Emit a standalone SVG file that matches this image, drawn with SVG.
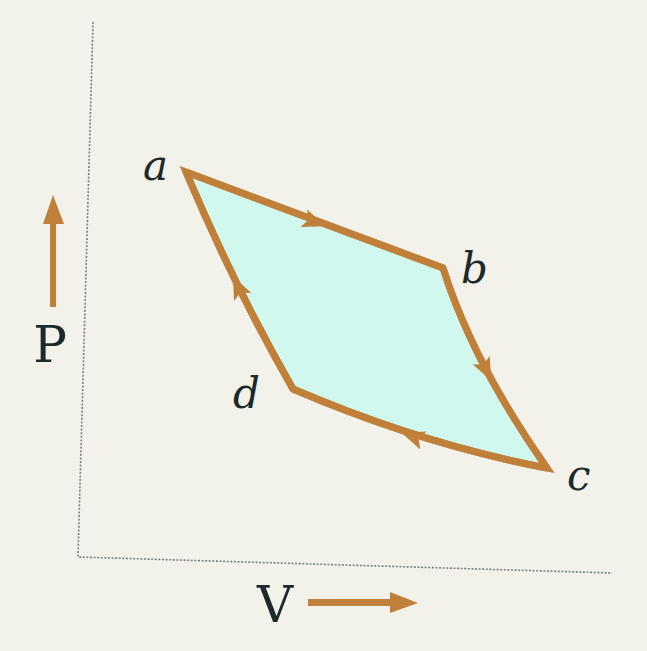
<svg xmlns="http://www.w3.org/2000/svg" width="647" height="651" viewBox="0 0 647 651">
<style>
.edge{fill:none;stroke:#c0803a;stroke-width:7;stroke-linejoin:miter;stroke-miterlimit:10}
.head{fill:#c0803a}
.axis{fill:none;stroke:#76807f;stroke-width:1.6;stroke-dasharray:2 1.6}
.lbl{font-family:"DejaVu Serif","Liberation Serif",serif;font-style:italic;font-size:42px;fill:#1c2a2a}
.ax{font-family:"DejaVu Serif","Liberation Serif",serif;font-size:50px;fill:#1c2a2a}
</style>
<defs>
<polygon id="ah" points="12,0 -11,-9.5 -6,0 -11,9.5"/>
</defs>
<rect width="647" height="651" fill="#f3f2ea"/>
<g id="axes">
<path class="axis" d="M93,22 L78,557 L612,573"/>
</g>
<g id="region">
<path d="M186,172 L443,268 Q473,363 547,468 Q421,444 293,389 Q236,290 186,172 Z" fill="#d0f8ee" stroke="#c0803a" stroke-width="7" stroke-linejoin="miter" stroke-miterlimit="10"/>
</g>
<g id="connectors">
<path id="e-ab" class="edge" d="M186,172 L443,268"/>
<path id="e-bc" class="edge" d="M443,268 Q473,363 547,468"/>
<path id="e-cd" class="edge" d="M547,468 Q421,444 293,389"/>
<path id="e-da" class="edge" d="M293,389 Q236,290 186,172"/>
<use href="#ah" class="head" transform="translate(314,222) rotate(20.5)"/>
<use href="#ah" class="head" transform="translate(486,370) rotate(64)"/>
<use href="#ah" class="head" transform="translate(413,437) rotate(199)"/>
<use href="#ah" class="head" transform="translate(238,287) rotate(245)"/>
</g>
<g id="node-a"><text class="lbl" x="143" y="180">a</text></g>
<g id="node-b"><text class="lbl" x="461" y="283">b</text></g>
<g id="node-c"><text class="lbl" x="567" y="490">c</text></g>
<g id="node-d"><text class="lbl" x="233" y="408">d</text></g>
<g id="label-P">
<path d="M50,307 L50,220 L56,220 L56,307 Z" fill="#c0803a"/>
<polygon points="53,195 43,224 64,224" fill="#c0803a"/>
<text class="ax" x="50" y="362" text-anchor="middle">P</text>
</g>
<g id="label-V">
<path d="M308,599 L392,599 L392,606 L308,606 Z" fill="#c0803a"/>
<polygon points="418,603 390,592 390,613" fill="#c0803a"/>
<text class="ax" x="275" y="622" text-anchor="middle">V</text>
</g>
</svg>
